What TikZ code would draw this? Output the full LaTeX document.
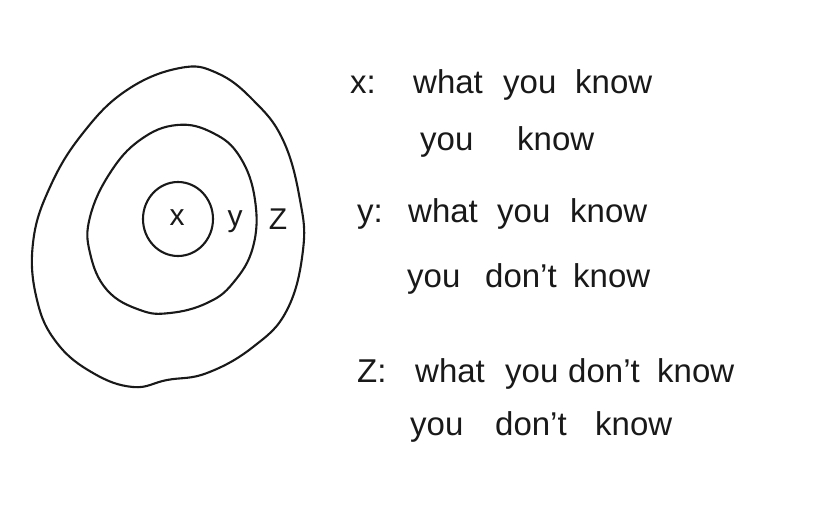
\documentclass[tikz,border=0pt]{standalone}
\usepackage{fontspec}
\setmainfont{Liberation Sans}
\begin{document}
\begin{tikzpicture}[x=1pt,y=-1pt,
  blob/.style={draw=black!90,line width=2.1pt},
  lbl/.style={font=\fontsize{30}{32}\selectfont,text=black!90,inner sep=0pt},
  txt/.style={font=\fontsize{33}{40}\selectfont,text=black!90,inner sep=0pt,anchor=base west}]
\useasboundingbox[fill=white] (0,0) rectangle (814,512);
% outer region
\draw[blob] plot[smooth cycle,tension=0.7] coordinates {
 (180,68) (127,90) (83,133) (50,187) (33,243) (37,300) (57,343) (93,373)
 (133,387) (167,380) (207,373) (253,347) (287,310) (303,250) (300,200)
 (283,140) (253,100) (217,73)};
% middle region
\draw[blob] plot[smooth cycle,tension=0.7] coordinates {
 (177,125) (140,140) (110,173) (90,217) (90,253) (107,290) (140,310)
 (170,313) (207,303) (233,283) (253,247) (255,200) (240,157) (213,133)};
% inner circle
\draw[blob] (178,219) ellipse [x radius=35, y radius=37];
\node[lbl] (lx) at (177,218) {x};
\node[lbl] (ly) at (235,222) {y};
\node[lbl] (lz) at (278,219) {Z};
% legend, line 1-2
\node[txt] (px)  at (350,93) {x:};
\node[txt] (a1)  at (413,93) {what};
\node[txt] (a2)  at (503,93) {you};
\node[txt] (a3)  at (575,93) {know};
\node[txt] (b1)  at (420,150) {you};
\node[txt] (b2)  at (517,150) {know};
% line 3-4
\node[txt] (py)  at (357,222) {y:};
\node[txt] (c1)  at (408,222) {what};
\node[txt] (c2)  at (497,222) {you};
\node[txt] (c3)  at (570,222) {know};
\node[txt] (d1)  at (407,287) {you};
\node[txt] (d2)  at (485,287) {don't};
\node[txt] (d3)  at (573,287) {know};
% line 5-6
\node[txt] (pz)  at (357,382) {Z:};
\node[txt] (e1)  at (415,382) {what};
\node[txt] (e2)  at (505,382) {you};
\node[txt] (e3)  at (568,382) {don't};
\node[txt] (e4)  at (657,382) {know};
\node[txt] (f1)  at (410,435) {you};
\node[txt] (f2)  at (495,435) {don't};
\node[txt] (f3)  at (595,435) {know};
\end{tikzpicture}
\end{document}
